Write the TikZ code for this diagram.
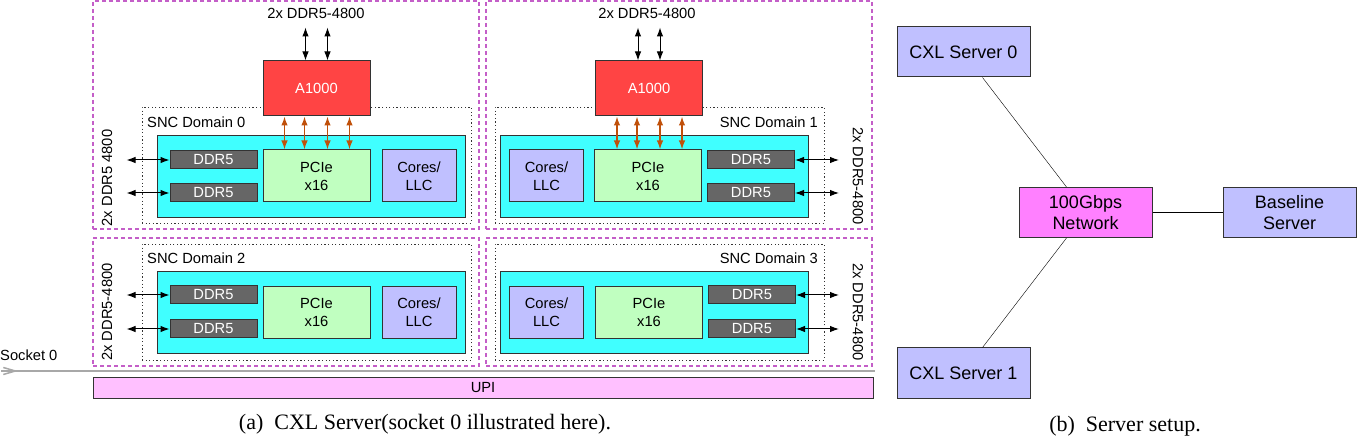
\documentclass[tikz,border=0pt]{standalone}
\usepackage{fontspec}
\setmainfont{Liberation Serif}
\setsansfont{Liberation Sans}
\usetikzlibrary{arrows.meta}

\definecolor{quadline}{HTML}{C45EC8}
\definecolor{boxline}{HTML}{333333}
\definecolor{chipfill}{HTML}{40FFFF}
\definecolor{pciefill}{HTML}{C0FFC0}
\definecolor{corefill}{HTML}{C0C0FF}
\definecolor{ddrfill}{HTML}{666666}
\definecolor{accfill}{HTML}{FF4444}
\definecolor{upifill}{HTML}{FFC0FF}
\definecolor{netfill}{HTML}{FF80FF}
\definecolor{pcieline}{HTML}{C0500A}
\definecolor{sockgray}{HTML}{A8A8A8}

\begin{document}
\begin{tikzpicture}[x=1pt,y=-1pt,
  quad/.style={draw=quadline,line width=1.1pt,dash pattern=on 4pt off 3pt,inner sep=0pt,minimum width=386pt},
  sncbox/.style={draw=black!80,line width=0.9pt,dash pattern=on 1.2pt off 2.4pt,inner sep=0pt,minimum width=329pt,minimum height=116pt},
  chip/.style={draw=boxline,fill=chipfill,line width=1pt,inner sep=0pt,minimum width=308pt,minimum height=82pt},
  box/.style={draw=boxline,line width=1pt,inner sep=0pt,align=center,font=\sffamily\fontsize{14.7}{18}\selectfont},
  ddr/.style={box,fill=ddrfill,text=white,minimum width=87pt,minimum height=18pt},
  pcie/.style={box,fill=pciefill,minimum width=107pt,minimum height=52pt},
  core/.style={box,fill=corefill,minimum width=74pt,minimum height=52pt},
  accel/.style={box,fill=accfill,text=white,minimum width=107pt,minimum height=55pt},
  lbl/.style={inner sep=0pt,font=\sffamily\fontsize{14.7}{18}\selectfont},
  server/.style={draw=boxline,fill=corefill,line width=1pt,inner sep=0pt,align=center,minimum width=133pt,minimum height=50pt,font=\sffamily\fontsize{18}{21.5}\selectfont},
  subcap/.style={inner sep=0pt,font=\rmfamily\fontsize{22}{26}\selectfont},
  memlink/.style={{Latex[length=9pt,width=6.5pt]}-{Latex[length=9pt,width=6.5pt]},line width=1pt},
  pcielink/.style={memlink,draw=pcieline,line width=1.4pt},
  sockline/.style={draw=sockgray,line width=1.5pt}]
\useasboundingbox (0,0) rectangle (1358,438);
% quadrants of socket 0
\node[quad,minimum height=228pt] (M0) at (286,115) {};
\node[quad,minimum height=228pt] (M1) at (679,115) {};
\node[quad,minimum height=128pt] (M2) at (286,302) {};
\node[quad,minimum height=128pt] (M3) at (679,302) {};
\node[sncbox] (D0) at (306.5,165) {};
\node[sncbox] (D1) at (659.5,165) {};
\node[sncbox] (D2) at (306.5,302) {};
\node[sncbox] (D3) at (659.5,302) {};
\node[lbl,anchor=west] (N0) at (147,122) {SNC Domain 0};
\node[lbl,anchor=east] (N1) at (818,122) {SNC Domain 1};
\node[lbl,anchor=west] (N2) at (147,258) {SNC Domain 2};
\node[lbl,anchor=east] (N3) at (818,258) {SNC Domain 3};
\node[chip] (C0) at (311,177) {};
\node[chip] (C1) at (654.5,177) {};
\node[chip] (C2) at (311,313) {};
\node[chip] (C3) at (654.5,313) {};
\node[ddr] (R0a) at (213.5,160) {DDR5};
\node[ddr] (R0b) at (213.5,193) {DDR5};
\node[ddr] (R1a) at (751,160) {DDR5};
\node[ddr] (R1b) at (751,193) {DDR5};
\node[ddr] (R2a) at (213.5,295) {DDR5};
\node[ddr] (R2b) at (213.5,329) {DDR5};
\node[ddr] (R3a) at (752,295) {DDR5};
\node[ddr] (R3b) at (752,329) {DDR5};
\node[pcie] (P0) at (316.5,176) {PCIe\\x16};
\node[pcie] (P1) at (648,176) {PCIe\\x16};
\node[pcie] (P2) at (316.5,312.5) {PCIe\\x16};
\node[pcie] (P3) at (649,312.5) {PCIe\\x16};
\node[core] (L0) at (419,176) {Cores/\\LLC};
\node[core] (L1) at (546.5,176) {Cores/\\LLC};
\node[core] (L2) at (419,312.5) {Cores/\\LLC};
\node[core] (L3) at (546.5,312.5) {Cores/\\LLC};
\node[accel] (A0) at (316.5,88.5) {A1000};
\node[accel] (A1) at (649,88.5) {A1000};
% memory labels
\node[lbl] (T0) at (316,13) {2x DDR5-4800};
\node[lbl] (T1) at (647,13) {2x DDR5-4800};
\node[lbl,rotate=90] (S0) at (107,178) {2x DDR5 4800};
\node[lbl,rotate=-90] (S1) at (858,176) {2x DDR5-4800};
\node[lbl,rotate=90] (S2) at (107,312) {2x DDR5-4800};
\node[lbl,rotate=-90] (S3) at (858,312) {2x DDR5-4800};
% links
\foreach \s in {-11,11} {
  \draw[memlink] ([xshift=\s pt]A0.north) -- ++(0,-33);
  \draw[memlink] ([xshift=\s pt]A1.north) -- ++(0,-33);
}
\foreach \s in {-32,-12,11,33} {
  \draw[pcielink] ([xshift=\s pt]A0.south) -- ([xshift=\s pt]A0.south |- P0.north);
  \draw[pcielink] ([xshift=\s pt]A1.south) -- ([xshift=\s pt]A1.south |- P1.north);
}
\draw[memlink] (R0a.west) -- ++(-43,0);
\draw[memlink] (R0b.west) -- ++(-43,0);
\draw[memlink] (R2a.west) -- ++(-43,0);
\draw[memlink] (R2b.west) -- ++(-43,0);
\draw[memlink] (R1a.east) -- ++(44,0);
\draw[memlink] (R1b.east) -- ++(44,0);
\draw[memlink] (R3a.east) -- ++(43,0);
\draw[memlink] (R3b.east) -- ++(43,0);
% socket and UPI
\node[lbl,anchor=west] (K) at (0,355) {Socket 0};
\coordinate (K0) at (1,371);
\coordinate (K1) at (875,371);
\draw[sockline] (K0) -- (K1);
\draw[sockline,-{Straight Barb[length=12pt,width=7pt]}] (K0) -- ++(17,0);
\node[box,fill=upifill,minimum width=780pt,minimum height=20pt] (U) at (483,388) {UPI};
% server setup
\node[server] (X0) at (963.5,52) {CXL Server 0};
\node[server,fill=netfill] (NW) at (1085.5,212.5) {100Gbps\\Network};
\node[server] (BS) at (1289.5,212.5) {Baseline\\Server};
\node[server] (X1) at (963.5,373) {CXL Server 1};
\draw ([xshift=19pt]X0.south) -- ([xshift=-19pt]NW.north);
\draw ([xshift=-19pt]NW.south) -- ([xshift=19pt]X1.north);
\draw (NW.east) -- (BS.west);
% captions
\node[subcap] (CA) at (425,424) {(a)\enspace CXL Server(socket 0 illustrated here).};
\node[subcap] (CB) at (1125,426) {(b)\enspace Server setup.};
\end{tikzpicture}
\end{document}
